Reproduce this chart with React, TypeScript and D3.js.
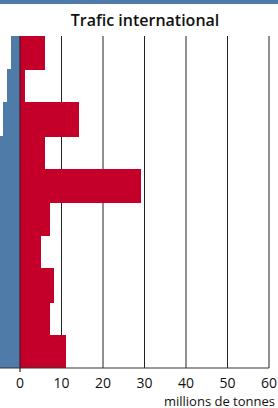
import React from 'react';
import * as d3 from 'd3';

// rows, top to bottom
const rows = ['r1', 'r2', 'r3', 'r4', 'r5', 'r6', 'r7', 'r8', 'r9', 'r10'];
// international traffic (red), millions de tonnes
const international = [6, 1.1, 14.2, 6, 29.2, 7.2, 5.1, 8.2, 7.2, 11];
// other traffic (blue), drawn to the left of zero, clipped by the frame
const national = [2.2, 3.1, 4, 6, 6, 6, 6, 6, 6, 6];
const tickValues = [0, 10, 20, 30, 40, 50, 60];

const title = 'Trafic international';
const unitLabel = 'millions de tonnes';

function App() {
    const width = 278;
    const height = 408;
    const plot = { top: 36, bottom: 368 };

    const x = d3.scaleLinear().domain([0, 60]).range([20, 269]);
    const y = d3.scaleBand().domain(rows).range([plot.top, plot.bottom]).padding(0);

    const font = "'Open Sans', 'DejaVu Sans', sans-serif";

    return (
        <svg width={width} height={height} style={{ position: 'absolute', left: 0, top: 0 }}>
            <rect x={0} y={0} width={width} height={height} fill="#ffffff" />
            <rect x={0} y={0} width={width} height={4} fill="#4f7ba8" />
            <text x={145} y={26} textAnchor="middle" fontFamily={font} fontWeight={600} fontSize={16} fill="#111">
                {title}
            </text>

            <defs>
                <clipPath id="plot-clip">
                    <rect x={0} y={plot.top} width={width} height={plot.bottom - plot.top} />
                </clipPath>
            </defs>

            {/* grid */}
            {tickValues.filter((t) => t > 0).map((t) => (
                <line key={t} x1={x(t)} x2={x(t)} y1={plot.top} y2={plot.bottom} stroke="#222" strokeWidth={1} />
            ))}

            <g clipPath="url(#plot-clip)" shapeRendering="crispEdges">
                {rows.map((r, i) => (
                    <rect key={'n' + r} x={x(-national[i])} y={y(r)} width={x(0) - x(-national[i])}
                        height={y.bandwidth() + 1} fill="#4f7ba8" />
                ))}
                {rows.map((r, i) => (
                    <rect key={'i' + r} x={x(0)} y={y(r)} width={x(international[i]) - x(0)}
                        height={y.bandwidth() + 1} fill="#c4002a" />
                ))}
            </g>

            {/* zero line */}
            <line x1={x(0)} x2={x(0)} y1={plot.top} y2={plot.bottom + 4} stroke="#4a1420" strokeWidth={1.2} />
            {/* axis */}
            <line x1={0} x2={x(60)} y1={plot.bottom} y2={plot.bottom} stroke="#333" strokeWidth={1} />

            {tickValues.map((t) => (
                <text key={'t' + t} x={x(t)} y={388} textAnchor="middle" fontFamily={font} fontSize={14} fill="#111">
                    {t}
                </text>
            ))}
            <text x={275} y={405.5} textAnchor="end" fontFamily={font} fontSize={13} fill="#111">
                {unitLabel}
            </text>
        </svg>
    );
}

export default App;
